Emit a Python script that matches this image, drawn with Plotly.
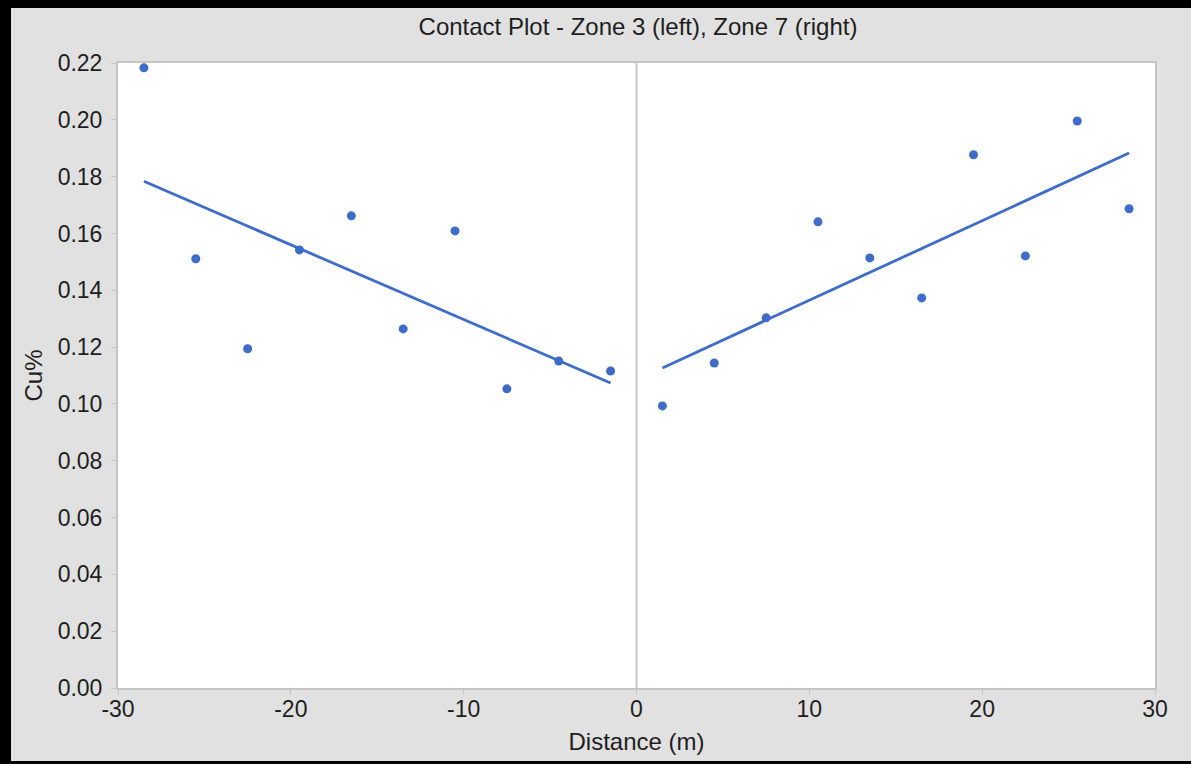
import numpy as np
import plotly.graph_objects as go

# Data
left_x = [-28.5, -25.5, -22.5, -19.5, -16.5, -13.5, -10.5, -7.5, -4.5, -1.5]
left_y = [0.2183, 0.1511, 0.1194, 0.1542, 0.1662, 0.1264, 0.1609, 0.1053, 0.1151, 0.1116]
right_x = [1.5, 4.5, 7.5, 10.5, 13.5, 16.5, 19.5, 22.5, 25.5, 28.5]
right_y = [0.0993, 0.1144, 0.1303, 0.1641, 0.1514, 0.1373, 0.1877, 0.1521, 0.1996, 0.1687]
x_ticks = [-30, -20, -10, 0, 10, 20, 30]
y_ticks = [0.00, 0.02, 0.04, 0.06, 0.08, 0.10, 0.12, 0.14, 0.16, 0.18, 0.20, 0.22]

BLUE = "#3f6bc9"
TXT = "#1e1e1e"
FONT = "Liberation Sans, Arial"
W, H = 1191, 764
ML, MR, MT, MB = 118, 36, 63, 76
PW, PH = W - ML - MR, H - MT - MB


def fit(xs, ys):
    k, b = np.polyfit(xs, ys, 1)
    ends = [xs[0], xs[-1]]
    return ends, [k * e + b for e in ends]


fig = go.Figure()
for xs, ys in [(left_x, left_y), (right_x, right_y)]:
    fx, fy = fit(xs, ys)
    fig.add_trace(go.Scatter(x=fx, y=fy, mode="lines",
                             line=dict(color=BLUE, width=2.8), hoverinfo="skip"))
    fig.add_trace(go.Scatter(x=xs, y=ys, mode="markers",
                             marker=dict(color=BLUE, size=9)))

fig.add_shape(type="line", xref="x", yref="paper", x0=0, x1=0, y0=0, y1=1,
              line=dict(color="#c8c8c8", width=2), layer="below")


def px_to_paper_x(p):
    return (p - ML) / PW


def px_to_paper_y(p):
    return (H - MB - p) / PH


# Black frame around the picture
frame = [
    (px_to_paper_x(-20), px_to_paper_x(11), px_to_paper_y(H + 20), px_to_paper_y(-20)),
    (px_to_paper_x(-20), px_to_paper_x(W + 20), px_to_paper_y(8), px_to_paper_y(-20)),
    (px_to_paper_x(-20), px_to_paper_x(W + 20), px_to_paper_y(H + 20), px_to_paper_y(761)),
]
for x0, x1, y0, y1 in frame:
    fig.add_shape(type="rect", xref="paper", yref="paper", x0=x0, x1=x1, y0=y0, y1=y1,
                  fillcolor="black", line=dict(width=0), layer="above")

axis_common = dict(showgrid=False, zeroline=False, showline=True, linecolor="#c4c4c4",
                   linewidth=2, mirror=True, ticks="outside", ticklen=5, tickcolor="#c4c4c4",
                   tickfont=dict(family=FONT, size=23, color=TXT))

fig.update_layout(
    width=W, height=H,
    margin=dict(l=ML, r=MR, t=MT, b=MB),
    paper_bgcolor="#e1e1e1",
    plot_bgcolor="white",
    showlegend=False,
    title=dict(text="Contact Plot - Zone 3 (left), Zone 7 (right)", x=px_to_paper_x(638), xref="paper",
               xanchor="center", y=1 - 27 / H, yanchor="middle",
               font=dict(family=FONT, size=24, color=TXT)),
    xaxis=dict(range=[-30, 30], tickvals=x_ticks, ticktext=[str(v) for v in x_ticks],
               ticklabelstandoff=-6,
               title=dict(text="Distance (m)", standoff=13,
                          font=dict(family=FONT, size=24, color=TXT)),
               **axis_common),
    yaxis=dict(range=[0, 0.22], tickvals=y_ticks, ticktext=[f"{v:.2f}" for v in y_ticks],
               ticklabelstandoff=4,
               title=dict(text="Cu%", standoff=8,
                          font=dict(family=FONT, size=24, color=TXT)),
               **axis_common),
)

fig.write_html("out.html")
